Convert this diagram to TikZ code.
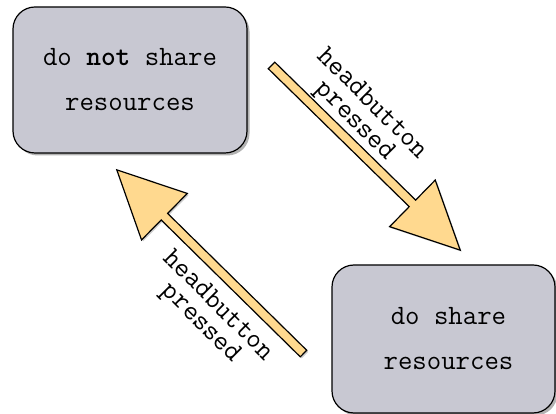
\documentclass[tikz,border=0pt]{standalone}
\usetikzlibrary{shapes.arrows,shadows}
\definecolor{boxgray}{RGB}{200,200,210}
\definecolor{arrowyellow}{RGB}{255,217,143}
\tikzset{
  state/.style={draw, line width=1.2pt, rounded corners=22pt, fill=boxgray,
    minimum width=234pt, minimum height=146pt, align=center,
    font=\ttfamily\fontsize{28}{45}\selectfont,
    drop shadow={shadow xshift=2.5pt, shadow yshift=-2.5pt, opacity=.6}},
  bigarrow/.style={single arrow, draw, line width=1.2pt, fill=arrowyellow,
    inner sep=4pt, single arrow head extend=28pt, single arrow tip angle=52,
    allow upside down, sloped,
    drop shadow={shadow xshift=1.5pt, shadow yshift=-1.5pt, opacity=.4}},
  lbl/.style={align=center, rotate=-45, font=\ttfamily\fontsize{28}{24}\selectfont}
}

\begin{document}
\begin{tikzpicture}[x=1pt,y=1pt]
\useasboundingbox (0,0) rectangle (556,414);
\node[state] (notshare) at (130,334) {do \textbf{not} share\\resources};
\node[state, minimum width=223pt, minimum height=148pt] (share) at (443.5,75) {\hspace*{10pt}do share\\\hspace*{10pt}resources};
% big arrows between the states
\coordinate (t1) at (268,352);
\coordinate (h1) at (457,167);
\coordinate (t2) at (307,57);
\coordinate (h2) at (120,241);
\path (t1) -- (h1) node[midway, bigarrow, minimum height=264pt] (go) {};
\path (t2) -- (h2) node[midway, bigarrow, minimum height=262pt] (back) {};
\node[lbl] (golbl) at (363,301) {headbutton\\pressed};
\node[lbl] (backlbl) at (209,99) {headbutton\\pressed};
\end{tikzpicture}
\end{document}
